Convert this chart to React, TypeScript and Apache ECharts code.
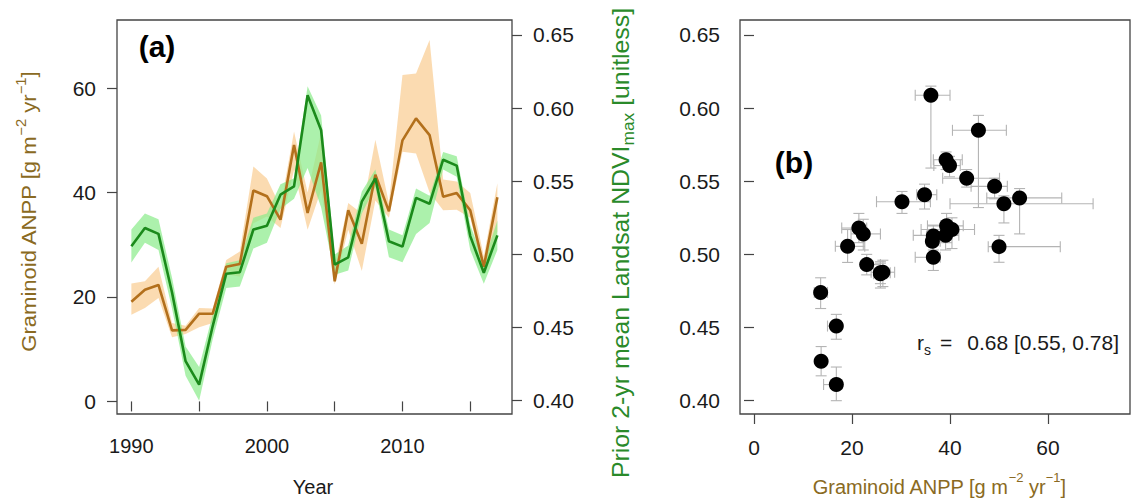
import React, { useEffect, useRef } from "react";
import * as echarts from "echarts";

const years = [1990, 1991, 1992, 1993, 1994, 1995, 1996, 1997, 1998, 1999, 2000, 2001, 2002, 2003, 2004, 2005, 2006, 2007, 2008, 2009, 2010, 2011, 2012, 2013, 2014, 2015, 2016, 2017];

const anpp = [19.1, 21.4, 22.3, 13.6, 13.7, 16.8, 16.8, 25.8, 26.3, 40.4, 39.3, 34.8, 49.1, 36.1, 45.8, 23.0, 36.6, 30.2, 43.4, 36.4, 50.0, 54.2, 51.0, 39.2, 39.9, 36.6, 25.8, 39.1];
const anppLo = [16.6, 17.9, 19.8, 12.3, 12.9, 14.2, 15.0, 24.4, 23.9, 34.1, 35.4, 33.2, 44.3, 32.9, 40.5, 22.4, 32.9, 25.0, 38.5, 35.2, 47.8, 47.5, 40.0, 36.6, 36.7, 35.2, 24.4, 32.5];
const anppHi = [22.6, 23.0, 25.8, 15.0, 14.5, 17.9, 17.8, 27.1, 28.7, 45.0, 42.7, 37.3, 51.7, 40.0, 51.5, 25.8, 38.0, 36.0, 50.1, 38.0, 62.5, 62.8, 69.2, 42.5, 42.1, 39.9, 27.8, 41.8];

const ndvi = [0.5055, 0.518, 0.514, 0.474, 0.427, 0.411, 0.451, 0.4868, 0.4878, 0.517, 0.5195, 0.5408, 0.5465, 0.6088, 0.5848, 0.493, 0.498, 0.536, 0.552, 0.509, 0.5053, 0.5386, 0.5346, 0.5647, 0.5607, 0.5125, 0.4874, 0.513];
const ndviLo = [0.4945, 0.508, 0.503, 0.463, 0.417, 0.400, 0.442, 0.477, 0.478, 0.504, 0.508, 0.531, 0.538, 0.559, 0.532, 0.486, 0.489, 0.528, 0.546, 0.498, 0.4946, 0.514, 0.5215, 0.558, 0.553, 0.503, 0.480, 0.503];
const ndviHi = [0.517, 0.528, 0.524, 0.484, 0.437, 0.423, 0.459, 0.494, 0.496, 0.525, 0.528, 0.548, 0.552, 0.615, 0.595, 0.500, 0.506, 0.543, 0.558, 0.517, 0.513, 0.545, 0.540, 0.570, 0.567, 0.520, 0.495, 0.523];

const yearTicks = [1990, 1995, 2000, 2005, 2010, 2015];
const yearLabels = [1990, 2000, 2010];
const anppTicks = [0, 20, 40, 60];
const ndviTicks = [0.4, 0.45, 0.5, 0.55, 0.6, 0.65];

const FONT = "'Liberation Sans', Arial, Helvetica, sans-serif";
const AXIS_COL = "#444";
const LABEL_COL = "#1a1a1a";
const BROWN_TITLE = "#8a6a22";
const GREEN_TITLE = "#2a8a2a";

function bandPolygon(lo: number[], hi: number[], fill: string) {
  return (params: any, api: any) => {
    const pts: number[][] = [];
    for (let i = 0; i < years.length; i++) pts.push(api.coord([years[i], hi[i]]));
    for (let i = years.length - 1; i >= 0; i--) pts.push(api.coord([years[i], lo[i]]));
    return { type: "polygon", shape: { points: pts }, style: { fill, stroke: "none" } };
  };
}

export default function App() {
  const ref = useRef<HTMLDivElement>(null);
  useEffect(() => {
    if (!ref.current) return;
    const chart = echarts.init(ref.current, null, { renderer: "svg" });

    const tickLabel = { fontFamily: FONT, fontSize: 21, color: LABEL_COL };
    const tick = (vals: number[]) => ({ show: true, length: 10, inside: false, customValues: vals, lineStyle: { color: AXIS_COL, width: 1.2 } });

    const errData = years.map((_, i) => [anpp[i], ndvi[i], anppLo[i], anppHi[i], ndviLo[i], ndviHi[i]]);
    const scatterData = years.map((_, i) => [anpp[i], ndvi[i]]);

    const option: any = {
      animation: false,
      backgroundColor: "#ffffff",
      grid: [
        { left: 117, top: 20, width: 395, height: 394, show: true, borderColor: AXIS_COL, borderWidth: 1.3, backgroundColor: "transparent" },
        { left: 740, top: 20, width: 390, height: 394, show: true, borderColor: AXIS_COL, borderWidth: 1.3, backgroundColor: "transparent" },
      ],
      xAxis: [
        {
          type: "value", gridIndex: 0, min: 1988.94, max: 2018.08,
          axisLine: { show: false }, splitLine: { show: false },
          axisTick: tick(yearTicks),
          axisLabel: { ...tickLabel, fontSize: 20, margin: 22, customValues: yearLabels, formatter: (v: number) => String(v) },
        },
        {
          type: "value", gridIndex: 1, min: -2.857, max: 76.73,
          axisLine: { show: false }, splitLine: { show: false },
          axisTick: tick(anppTicks),
          axisLabel: { ...tickLabel, margin: 23, customValues: anppTicks, formatter: (v: number) => String(v) },
        },
      ],
      yAxis: [
        {
          type: "value", gridIndex: 0, position: "left", min: -2.41, max: 73.05,
          axisLine: { show: false }, splitLine: { show: false },
          axisTick: tick(anppTicks),
          axisLabel: { ...tickLabel, margin: 21, customValues: anppTicks, formatter: (v: number) => String(v) },
        },
        {
          type: "value", gridIndex: 0, position: "right", min: 0.3909, max: 0.6602,
          axisLine: { show: false }, splitLine: { show: false },
          axisTick: tick(ndviTicks),
          axisLabel: { ...tickLabel, margin: 21, customValues: ndviTicks, formatter: (v: number) => v.toFixed(2) },
        },
        {
          type: "value", gridIndex: 1, position: "left", min: 0.3909, max: 0.6602,
          axisLine: { show: false }, splitLine: { show: false },
          axisTick: tick(ndviTicks),
          axisLabel: { ...tickLabel, margin: 20, customValues: ndviTicks, formatter: (v: number) => v.toFixed(2) },
        },
      ],
      series: [
        {
          type: "custom", xAxisIndex: 0, yAxisIndex: 0, clip: true,
          data: [[2000, 30]], encode: { x: 0, y: 1 },
          renderItem: bandPolygon(anppLo, anppHi, "rgba(251,216,170,0.92)"), silent: true, z: 1,
        },
        {
          type: "custom", xAxisIndex: 0, yAxisIndex: 1, clip: true,
          data: [[2000, 0.5]], encode: { x: 0, y: 1 },
          renderItem: bandPolygon(ndviLo, ndviHi, "rgba(140,236,140,0.72)"), silent: true, z: 2,
        },
        {
          type: "line", xAxisIndex: 0, yAxisIndex: 0, showSymbol: false, z: 3,
          data: years.map((y, i) => [y, anpp[i]]),
          lineStyle: { color: "#b3701c", width: 2.6 },
        },
        {
          type: "line", xAxisIndex: 0, yAxisIndex: 1, showSymbol: false, z: 4,
          data: years.map((y, i) => [y, ndvi[i]]),
          lineStyle: { color: "#1b8a1b", width: 2.6 },
        },
        {
          type: "custom", xAxisIndex: 1, yAxisIndex: 2, z: 2,
          dimensions: ["x", "y", "xlo", "xhi", "ylo", "yhi"],
          encode: { x: 0, y: 1 },
          data: errData,
          renderItem: (params: any, api: any) => {
            const x = api.value(0), y = api.value(1);
            const xl = api.coord([api.value(2), y]);
            const xh = api.coord([api.value(3), y]);
            const yl = api.coord([x, api.value(4)]);
            const yh = api.coord([x, api.value(5)]);
            const st = { stroke: "#b4b4b4", lineWidth: 1.1 };
            const c = 5.5;
            const ln = (x1: number, y1: number, x2: number, y2: number) => ({ type: "line", shape: { x1, y1, x2, y2 }, style: st });
            return {
              type: "group",
              children: [
                ln(xl[0], xl[1], xh[0], xh[1]),
                ln(xl[0], xl[1] - c, xl[0], xl[1] + c),
                ln(xh[0], xh[1] - c, xh[0], xh[1] + c),
                ln(yl[0], yl[1], yh[0], yh[1]),
                ln(yl[0] - c, yl[1], yl[0] + c, yl[1]),
                ln(yh[0] - c, yh[1], yh[0] + c, yh[1]),
              ],
            };
          },
        },
        {
          type: "scatter", xAxisIndex: 1, yAxisIndex: 2, z: 5,
          data: scatterData, symbol: "circle", symbolSize: 15,
          itemStyle: { color: "#000000", opacity: 1 },
        },
      ],
      graphic: [
        {
          type: "text", x: 27, y: 212, rotation: Math.PI / 2, scaleX: 1.05,
          style: {
            text: "{t|Graminoid ANPP [g m}{s|−2}{t| yr}{s|−1}{t|]}",
            align: "center", verticalAlign: "middle", fill: BROWN_TITLE,
            rich: {
              t: { fontFamily: FONT, fontSize: 21, fill: BROWN_TITLE, lineHeight: 26, verticalAlign: "bottom" },
              s: { fontFamily: FONT, fontSize: 14, fill: BROWN_TITLE, lineHeight: 26, verticalAlign: "top" },
            },
          },
        },
        {
          type: "text", x: 623, y: 243, rotation: Math.PI / 2, scaleX: 1.08,
          style: {
            text: "{t|Prior 2-yr mean Landsat NDVI}{s|max}{t| [unitless]}",
            align: "center", verticalAlign: "middle", fill: GREEN_TITLE,
            rich: {
              t: { fontFamily: FONT, fontSize: 23, fill: GREEN_TITLE, lineHeight: 28, verticalAlign: "top" },
              s: { fontFamily: FONT, fontSize: 16, fill: GREEN_TITLE, lineHeight: 28, verticalAlign: "bottom" },
            },
          },
        },
        {
          type: "text", x: 313, y: 487,
          style: { text: "Year", align: "center", verticalAlign: "middle", fontFamily: FONT, fontSize: 20, fill: LABEL_COL },
        },
        {
          type: "text", x: 939, y: 484,
          style: {
            text: "{t|Graminoid ANPP [g m}{s|−2}{t| yr}{s|−1}{t|]}",
            align: "center", verticalAlign: "middle", fill: BROWN_TITLE,
            rich: {
              t: { fontFamily: FONT, fontSize: 20, fill: BROWN_TITLE, lineHeight: 26, verticalAlign: "bottom" },
              s: { fontFamily: FONT, fontSize: 13, fill: BROWN_TITLE, lineHeight: 26, verticalAlign: "top" },
            },
          },
        },
        {
          type: "text", x: 157, y: 46,
          style: { text: "(a)", align: "center", verticalAlign: "middle", fontFamily: FONT, fontWeight: "bold", fontSize: 30, fill: "#000" },
        },
        {
          type: "text", x: 794, y: 162,
          style: { text: "(b)", align: "center", verticalAlign: "middle", fontFamily: FONT, fontWeight: "bold", fontSize: 30, fill: "#000" },
        },
        {
          type: "text", x: 917, y: 342,
          style: {
            text: "{r|r}{s|s}{e|=}{t|0.68 [0.55, 0.78]}",
            align: "left", verticalAlign: "middle", fill: LABEL_COL,
            rich: {
              r: { fontFamily: FONT, fontSize: 21, fill: LABEL_COL, lineHeight: 30, verticalAlign: "middle" },
              s: { fontFamily: FONT, fontSize: 14, fill: LABEL_COL, lineHeight: 30, verticalAlign: "bottom" },
              e: { fontFamily: FONT, fontSize: 21, fill: LABEL_COL, lineHeight: 30, verticalAlign: "middle", padding: [0, 15, 0, 9] },
              t: { fontFamily: FONT, fontSize: 21, fill: LABEL_COL, lineHeight: 30, verticalAlign: "middle" },
            },
          },
        },
      ],
    };
    chart.setOption(option);
    return () => chart.dispose();
  }, []);
  return <div ref={ref} style={{ position: "fixed", left: 0, top: 0, width: 1132, height: 498, background: "#fff" }} />;
}
